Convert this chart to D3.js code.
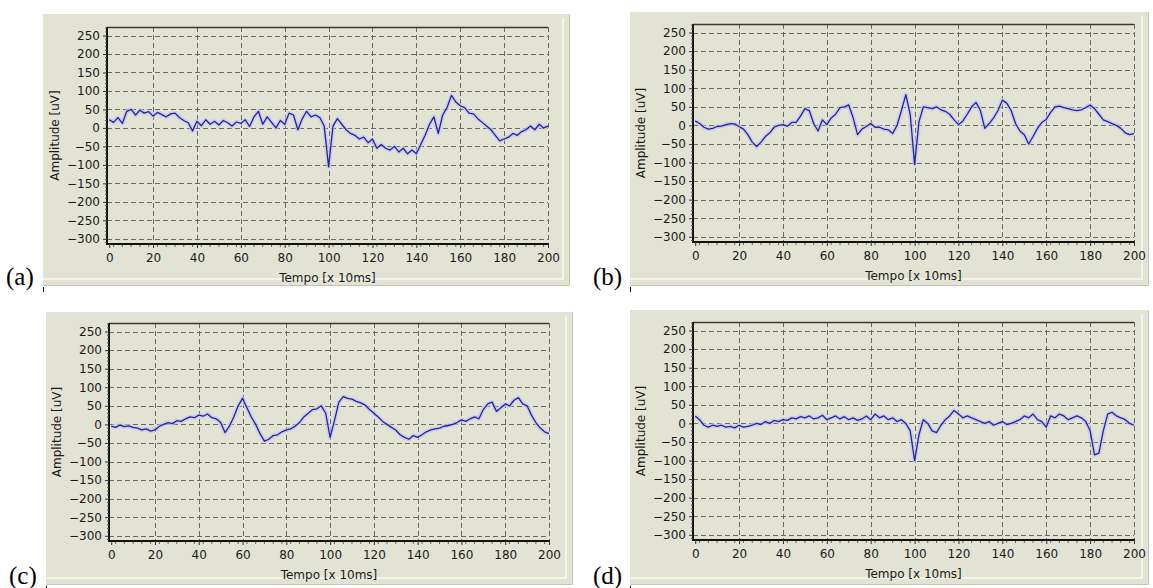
<!DOCTYPE html>
<html>
<head>
<meta charset="utf-8">
<script src="https://cdn.jsdelivr.net/npm/d3@7"></script>
<style>
  body { margin: 0; background: #fff; }
  svg { display: block; }
</style>
</head>
<body>
<svg id="chart" width="1153" height="588"></svg>
<script>
// tempo [x 10ms], one sample every 2 units
const tempo = [0,2,4,6,8,10,12,14,16,18,20,22,24,26,28,30,32,34,36,38,40,42,44,46,48,50,
  52,54,56,58,60,62,64,66,68,70,72,74,76,78,80,82,84,86,88,90,92,94,96,98,100,
  102,104,106,108,110,112,114,116,118,120,122,124,126,128,130,132,134,136,138,140,
  142,144,146,148,150,152,154,156,158,160,162,164,166,168,170,172,174,176,178,180,
  182,184,186,188,190,192,194,196,198,200];

// amplitude [uV]
const sinalA = [22,15,28,12,45,50,35,48,40,44,32,42,36,30,38,40,28,20,14,-8,18,6,22,10,18,8,
  20,14,5,16,12,22,4,30,45,10,30,15,0,20,10,40,35,-5,25,45,30,35,28,5,-105,
  5,25,10,-5,-15,-20,-30,-25,-40,-30,-55,-45,-55,-60,-50,-65,-55,-70,-60,-70,
  -45,-20,10,30,-15,35,55,88,70,60,55,40,38,25,15,5,-5,-20,-35,-30,
  -25,-15,-20,-10,-5,5,-5,10,0,5];

const sinalB = [12,5,-5,-10,-8,-3,-2,2,5,4,-3,-10,-25,-45,-57,-45,-30,-20,-5,0,2,-2,8,8,25,45,
  40,5,-15,15,2,20,30,48,50,55,20,-25,-10,-3,5,-5,-5,-10,-12,-22,0,40,83,30,-105,
  10,50,48,45,50,42,38,30,15,2,12,30,50,62,40,-8,5,20,40,68,
  60,40,5,-15,-25,-50,-30,-8,8,16,35,50,52,48,45,42,40,42,48,55,
  45,30,15,10,5,0,-8,-20,-25,-22];

const sinalC = [-5,-8,-2,-6,-4,-8,-10,-15,-12,-18,-15,-5,0,5,2,10,8,15,20,18,25,22,28,18,15,5,
  -22,-5,20,50,70,45,20,0,-25,-45,-40,-30,-28,-20,-15,-12,-5,5,20,30,40,42,50,30,-35,
  10,60,75,70,68,62,58,52,40,30,20,8,0,-8,-15,-28,-35,-40,-30,-35,
  -28,-20,-15,-12,-10,-5,-3,0,5,12,8,15,20,15,40,55,60,35,45,55,
  50,65,72,55,50,25,5,-10,-20,-25];

const sinalD = [20,10,-5,-10,-5,-8,-5,-10,-8,-12,-5,-10,-8,-5,0,-3,5,0,8,5,10,8,15,12,18,15,
  20,12,15,22,10,15,20,12,18,10,15,8,12,20,10,25,15,20,10,15,5,10,0,-20,-100,
  -30,10,0,-20,-25,-5,10,20,35,25,15,20,15,10,5,0,5,-5,0,5,
  -3,0,5,10,20,15,25,10,5,-10,20,15,25,20,10,15,20,15,5,-20,
  -85,-80,-20,25,30,20,15,10,0,-5];

const yTicks = [250,200,150,100,50,0,-50,-100,-150,-200,-250,-300];
const xTicks = [0,20,40,60,80,100,120,140,160,180,200];
const panelLabels = ["(a)","(b)","(c)","(d)"];
const xTitle = "Tempo [x 10ms]";
const yTitle = "Amplitude [uV]";

const panels = [
  {label: panelLabels[0], sinal: sinalA, box: [43,14,570,286], frame: [107,27,548,244], lab: [6,285]},
  {label: panelLabels[1], sinal: sinalB, box: [630,12,1149,286], frame: [693,24,1134,242], lab: [593,285]},
  {label: panelLabels[2], sinal: sinalC, box: [46,312,573,585], frame: [109,323,549,541], lab: [9,584]},
  {label: panelLabels[3], sinal: sinalD, box: [630,310,1149,585], frame: [693,322,1134,540], lab: [593,584]}
];

const svg = d3.select("#chart");
const font = "'DejaVu Sans', Verdana, sans-serif";

panels.forEach(p => {
  const [bx0, by0, bx1, by1] = p.box;
  const [fx0, fy0, fx1, fy1] = p.frame;
  const g = svg.append("g");

  // panel background (windows form colour)
  g.append("rect")
    .attr("x", bx0).attr("y", by0)
    .attr("width", bx1 - bx0).attr("height", by1 - by0)
    .attr("fill", "#e3e3d3");
  // 3d-ish edge on right and bottom
  g.append("path")
    .attr("d", `M${bx1-7},${by0+4}V${by1-7}H${bx0}`)
    .attr("fill", "none").attr("stroke", "#f3f3ea").attr("stroke-width", 2);
  g.append("path")
    .attr("d", `M${bx1-0.5},${by0}V${by1-0.5}H${bx0}`)
    .attr("fill", "none").attr("stroke", "#c4c4b4").attr("stroke-width", 1);
  // little corner marks
  g.append("line").attr("x1", bx0 + 0.5).attr("x2", bx0 + 0.5)
    .attr("y1", by1 + 1).attr("y2", by1 + 6).attr("stroke", "#000");

  const x = d3.scaleLinear().domain([-1, 200]).range([fx0, fx1]);
  const y = d3.scaleLinear().domain([-314, 273]).range([fy1, fy0]);

  // grid
  g.append("g").selectAll("line")
    .data(yTicks)
    .join("line")
    .attr("x1", fx0).attr("x2", fx1)
    .attr("y1", d => Math.round(y(d)) + 0.5).attr("y2", d => Math.round(y(d)) + 0.5)
    .attr("stroke", "#6a6a60").attr("stroke-dasharray", "5,3");
  g.append("g").selectAll("line")
    .data(xTicks.filter(d => d > 0))
    .join("line")
    .attr("x1", d => Math.round(x(d)) + 0.5).attr("x2", d => Math.round(x(d)) + 0.5)
    .attr("y1", fy0).attr("y2", fy1)
    .attr("stroke", "#6a6a60").attr("stroke-dasharray", "5,3");

  // signal: halo + line
  const line = d3.line()
    .x((d, i) => x(tempo[i]))
    .y(d => y(d));
  g.append("path").datum(p.sinal)
    .attr("d", line)
    .attr("fill", "none").attr("stroke", "#c4c4f2")
    .attr("stroke-width", 4.5).attr("stroke-linejoin", "round").attr("opacity", 0.7);
  g.append("path").datum(p.sinal)
    .attr("d", line)
    .attr("fill", "none").attr("stroke", "#24249a")
    .attr("stroke-width", 1.3).attr("stroke-linejoin", "round");

  // frame: solid top, left, bottom
  g.append("line").attr("x1", fx0).attr("x2", fx1).attr("y1", fy0 + 0.5).attr("y2", fy0 + 0.5)
    .attr("stroke", "#3a3a34").attr("stroke-width", 1.5);
  g.append("line").attr("x1", fx0).attr("x2", fx1 + 1).attr("y1", fy1).attr("y2", fy1)
    .attr("stroke", "#111").attr("stroke-width", 2);
  g.append("line").attr("x1", fx0).attr("x2", fx0).attr("y1", fy0).attr("y2", fy1 + 1)
    .attr("stroke", "#111").attr("stroke-width", 2);

  // y axis
  const yAxis = d3.axisLeft(y).tickValues(yTicks).tickSize(4).tickPadding(3);
  const ya = g.append("g").attr("transform", `translate(${fx0},0)`).call(yAxis);
  ya.select(".domain").remove();
  ya.selectAll("line").attr("stroke", "#333");
  ya.selectAll("text").attr("font-family", font).attr("font-size", 12).attr("fill", "#1a1a1a");
  // minor y ticks
  g.append("g").selectAll("line")
    .data(d3.range(-310, 271, 10).filter(v => v % 50 !== 0))
    .join("line")
    .attr("x1", fx0 - 2).attr("x2", fx0)
    .attr("y1", d => y(d)).attr("y2", d => y(d))
    .attr("stroke", "#555");

  // x axis
  const xAxis = d3.axisBottom(x).tickValues(xTicks).tickSize(4).tickPadding(5);
  const xa = g.append("g").attr("transform", `translate(0,${fy1})`).call(xAxis);
  xa.select(".domain").remove();
  xa.selectAll("line").attr("stroke", "#333");
  xa.selectAll("text").attr("font-family", font).attr("font-size", 12).attr("fill", "#1a1a1a");
  g.append("g").selectAll("line")
    .data(d3.range(2, 200, 4))
    .join("line")
    .attr("x1", d => x(d)).attr("x2", d => x(d))
    .attr("y1", fy1 + 1).attr("y2", fy1 + 3)
    .attr("stroke", "#666");

  // axis titles
  g.append("text")
    .attr("x", (fx0 + fx1) / 2).attr("y", fy1 + 38)
    .attr("text-anchor", "middle")
    .attr("font-family", font).attr("font-size", 12).attr("fill", "#1a1a1a")
    .text(xTitle);
  g.append("text")
    .attr("transform", `translate(${fx0 - 48},${(fy0 + fy1) / 2}) rotate(-90)`)
    .attr("text-anchor", "middle")
    .attr("font-family", font).attr("font-size", 12).attr("fill", "#1a1a1a")
    .text(yTitle);

  // panel letter
  svg.append("text")
    .attr("x", p.lab[0]).attr("y", p.lab[1])
    .attr("font-family", "'Liberation Serif', 'Times New Roman', serif")
    .attr("font-size", 25).attr("fill", "#000")
    .text(p.label);
});
</script>
</body>
</html>
